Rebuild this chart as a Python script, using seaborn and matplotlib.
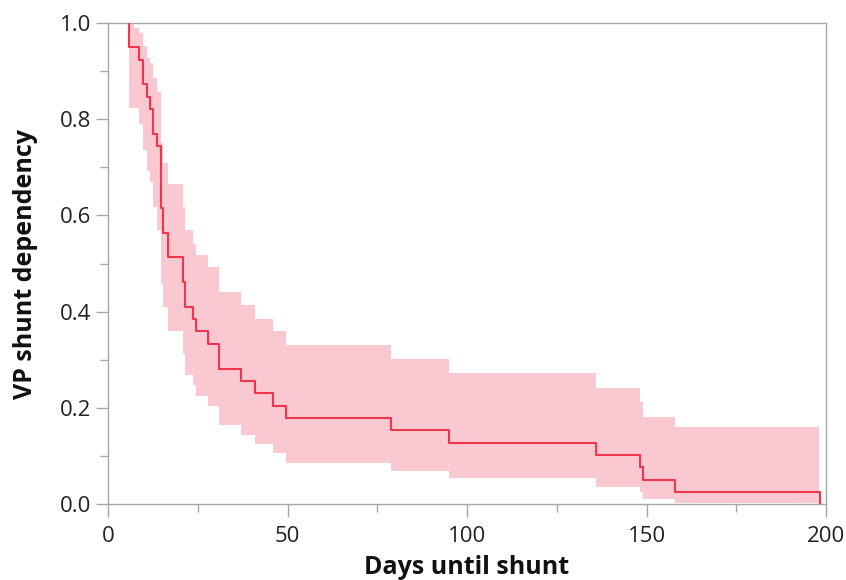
import numpy as np
import pandas as pd
import matplotlib
matplotlib.use("Agg")
import matplotlib.pyplot as plt
import seaborn as sns
from matplotlib.ticker import MultipleLocator

# Kaplan-Meier estimate: event days and survival after each drop
event_days = [5.8, 8.6, 9.8, 10.9, 11.6, 12.6, 13.7, 14.8, 15.4, 16.7, 20.8, 21.5,
              23.6, 24.6, 27.8, 30.8, 36.9, 40.9, 46.0, 49.7, 78.8, 94.9, 136.0,
              148.1, 148.9, 157.9, 198.2]
survival = [0.949, 0.923, 0.872, 0.846, 0.821, 0.769, 0.744, 0.615, 0.564, 0.513,
            0.462, 0.410, 0.385, 0.359, 0.333, 0.282, 0.256, 0.231, 0.205, 0.179,
            0.154, 0.128, 0.103, 0.077, 0.051, 0.026, 0.0]

# Confidence band: start day of each band segment with its lower / upper limit
band_days = [5.8, 7.3, 8.6, 9.8, 10.9, 11.6, 12.6, 13.7, 14.8, 15.4, 16.7, 20.8,
             21.5, 23.6, 24.6, 27.8, 30.8, 36.9, 40.9, 46.0, 49.7, 78.8, 94.9,
             136.0, 148.1, 148.9, 157.9]
band_end = 198.0
band_upper = [1.0, 0.989, 0.979, 0.951, 0.927, 0.916, 0.885, 0.857, 0.750, 0.708,
              0.666, 0.617, 0.569, 0.541, 0.517, 0.493, 0.441, 0.413, 0.385, 0.359,
              0.331, 0.302, 0.272, 0.241, 0.212, 0.182, 0.160]
band_lower = [0.822, 0.822, 0.790, 0.735, 0.693, 0.669, 0.617, 0.569, 0.458, 0.410,
              0.361, 0.313, 0.268, 0.247, 0.225, 0.205, 0.164, 0.145, 0.126, 0.106,
              0.087, 0.070, 0.054, 0.037, 0.025, 0.011, 0.004]

x_ticks = [0, 50, 100, 150, 200]
y_ticks = [0.0, 0.2, 0.4, 0.6, 0.8, 1.0]

LINE_COLOR = "#f0364c"
BAND_COLOR = "#fac8d0"
AXIS_COLOR = "#a6a6a6"

sns.set_theme(style="white")
plt.rcParams["font.family"] = ["Open Sans", "DejaVu Sans"]

fig = plt.figure(figsize=(8.46, 5.80), dpi=100)
ax = fig.add_axes([0.1277, 0.1302, 0.9764 - 0.1277, 0.9610 - 0.1302])

# step curve table
curve = pd.DataFrame({
    "day": [event_days[0]] + event_days,
    "surv": [1.0] + survival,
})

# confidence band (step-post)
bx = np.array(band_days + [band_end])
bl = np.array(band_lower + [band_lower[-1]])
bu = np.array(band_upper + [band_upper[-1]])
ax.fill_between(bx, bl, bu, step="post", color=BAND_COLOR, linewidth=0, zorder=1)

sns.lineplot(data=curve, x="day", y="surv", drawstyle="steps-post",
             color=LINE_COLOR, linewidth=1.5, ax=ax, zorder=3,
             estimator=None, sort=False)

ax.set_xlim(0, 200)
ax.set_ylim(0, 1.0)
ax.set_xticks(x_ticks)
ax.set_xticklabels([str(v) for v in x_ticks])
ax.set_yticks(y_ticks)
ax.set_yticklabels([f"{v:.1f}" for v in y_ticks])
ax.xaxis.set_minor_locator(MultipleLocator(25))
ax.yaxis.set_minor_locator(MultipleLocator(0.1))

for side in ["left", "right", "top", "bottom"]:
    ax.spines[side].set_visible(True)
    ax.spines[side].set_color(AXIS_COLOR)
    ax.spines[side].set_linewidth(1.0)

ax.tick_params(axis="both", which="major", direction="out", length=9,
               width=1.0, color=AXIS_COLOR, labelsize=16, labelcolor="#222222", pad=3)
ax.tick_params(axis="both", which="minor", direction="out", length=5.5,
               width=1.0, color=AXIS_COLOR)
ax.tick_params(axis="x", which="major", pad=6.5)
ax.tick_params(top=False, right=False, which="both")
ax.tick_params(left=True, bottom=True, which="both")

ax.set_xlabel("Days until shunt", fontsize=18, fontweight="bold", color="#111111", labelpad=6)
ax.set_ylabel("VP shunt dependency", fontsize=18, fontweight="bold", color="#111111", labelpad=16)

ax.grid(False)
fig.savefig("out.png", dpi=100, facecolor="white")
